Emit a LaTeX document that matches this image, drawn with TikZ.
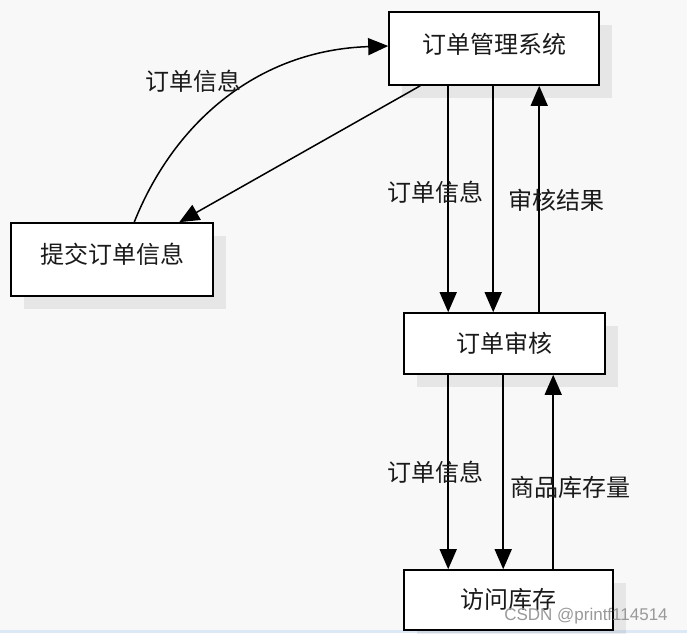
\documentclass[tikz,border=0pt]{standalone}
\usepackage{fontspec}
\newfontfamily\cjk{Noto Sans CJK SC}
\setsansfont{Liberation Sans}
\usetikzlibrary{arrows.meta,shadows}
\definecolor{bgc}{HTML}{F8F8F8}
\definecolor{txt}{HTML}{1A1A1A}
\definecolor{strip}{HTML}{DCE8F5}
\tikzset{
  boxnode/.style={draw=black, line width=1.6pt, fill=white, inner sep=0pt,
    font=\cjk\fontsize{24}{26}\selectfont, text=txt,
    drop shadow={shadow xshift=13pt, shadow yshift=-13pt, fill=black, opacity=0.07}},
  flow/.style={line width=1.5pt, -{Triangle[length=20pt,width=17pt]}},
  lbl/.style={font=\cjk\fontsize{24}{26}\selectfont, text=txt, inner sep=0pt}
}
\begin{document}
\begin{tikzpicture}[x=1pt,y=-1pt]
  \fill[bgc] (0,0) rectangle (687,633);
  \useasboundingbox (0,0) rectangle (687,633);
  \fill[strip] (0,630) rectangle (687,633);

  \node[boxnode, minimum width=210pt, minimum height=73pt] (A) at (494,48.5) {\raisebox{10pt}{订单管理系统}};
  \node[boxnode, minimum width=202pt, minimum height=73pt] (B) at (112,259.5) {\raisebox{12pt}{提交订单信息}};
  \node[boxnode, minimum width=201pt, minimum height=61pt] (C) at (504.5,343.5) {\raisebox{1pt}{订单审核}};
  \node[boxnode, minimum width=209pt, minimum height=60pt] (D) at (508.5,600) {\raisebox{4pt}{访问库存}};

  % B -> A curved
  \draw[flow] ([xshift=124pt]B.north west) .. controls (175,120) and (260,50) .. ([yshift=2.5pt]A.west);
  % A -> B straight
  \draw[flow] ([xshift=32pt]A.south west) -- ([xshift=169pt]B.north west);
  % A -> C
  \draw[flow] ([xshift=60pt]A.south west) -- ([xshift=45pt]C.north west);
  \draw[flow] ([xshift=105pt]A.south west) -- ([xshift=90pt]C.north west);
  % C -> A
  \draw[flow] ([xshift=136pt]C.north west) -- ([xshift=151pt]A.south west);
  % C -> D
  \draw[flow] ([xshift=45pt]C.south west) -- ([xshift=45pt]D.north west);
  \draw[flow] ([xshift=100pt]C.south west) -- ([xshift=100pt]D.north west);
  % D -> C
  \draw[flow] ([xshift=150pt]D.north west) -- ([xshift=150pt]C.south west);

  \node[lbl] (l1) at (193,81) {订单信息};
  \node[lbl] (l2) at (435,192) {订单信息};
  \node[lbl] (l3) at (556,200) {审核结果};
  \node[lbl] (l4) at (435,472) {订单信息};
  \node[lbl] (l5) at (570,487) {商品库存量};

  \node[font=\sffamily\fontsize{17}{19}\selectfont, text=black!40, inner sep=0pt] (wm) at (586,616) {CSDN @printf114514};
\end{tikzpicture}
\end{document}
